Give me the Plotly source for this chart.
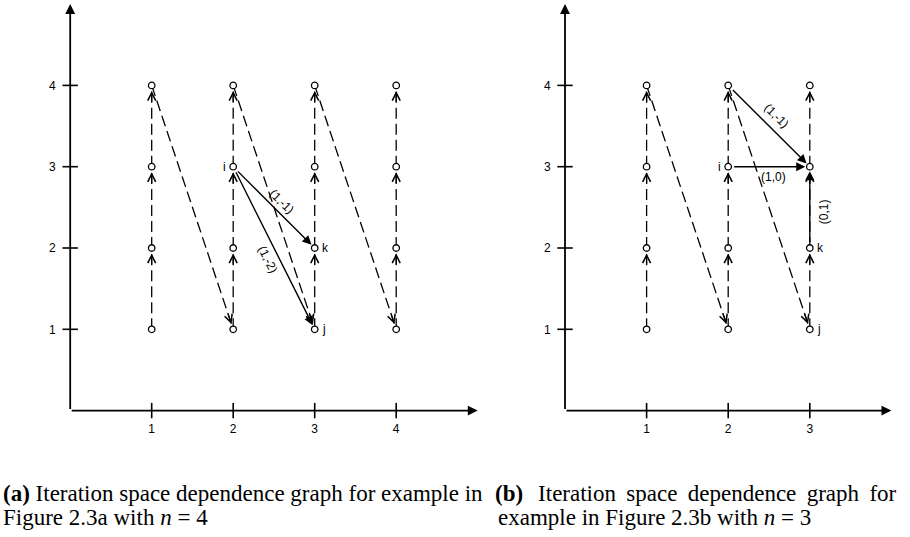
import math
import plotly.graph_objects as go

# ---------------- data ----------------
# Panel (a): n = 4
A_I = [1, 2, 3, 4]
A_J = [1, 2, 3, 4]
A_DASHED = [((1, 1), (1, 2)), ((1, 2), (1, 3)), ((1, 3), (1, 4)), ((1, 4), (2, 1)),
            ((2, 1), (2, 2)), ((2, 2), (2, 3)), ((2, 3), (2, 4)), ((2, 4), (3, 1)),
            ((3, 1), (3, 2)), ((3, 2), (3, 3)), ((3, 3), (3, 4)), ((3, 4), (4, 1)),
            ((4, 1), (4, 2)), ((4, 2), (4, 3)), ((4, 3), (4, 4))]
A_SOLID = [((2, 3), (3, 2), "(1,-1)"), ((2, 3), (3, 1), "(1,-2)")]
A_NAMES = [((2, 3), "i"), ((3, 2), "k"), ((3, 1), "j")]

# Panel (b): n = 3
B_I = [1, 2, 3]
B_J = [1, 2, 3, 4]
B_DASHED = [((1, 1), (1, 2)), ((1, 2), (1, 3)), ((1, 3), (1, 4)), ((1, 4), (2, 1)),
            ((2, 1), (2, 2)), ((2, 2), (2, 3)), ((2, 3), (2, 4)), ((2, 4), (3, 1)),
            ((3, 1), (3, 2)), ((3, 2), (3, 3)), ((3, 3), (3, 4))]
B_SOLID = [((2, 4), (3, 3), "(1,-1)"), ((2, 3), (3, 3), "(1,0)"), ((3, 2), (3, 3), "(0,1)")]
B_NAMES = [((2, 3), "i"), ((3, 2), "k"), ((3, 1), "j")]

X_TICKS_A = [1, 2, 3, 4]
X_TICKS_B = [1, 2, 3]
Y_TICKS = [1, 2, 3, 4]
X_MAX_A = 5
X_MAX_B = 4
Y_MAX = 5

CAPTION_A = ["<b>(a)</b> Iteration space dependence graph for example in",
             "Figure 2.3a with <i>n</i> = 4"]
CAPTION_B = ["<b>(b)</b> \u2009\u2009Iteration \u2009space \u2009dependence \u2009graph \u2009for",
             "example in Figure 2.3b with <i>n</i> = 3"]

# ---------------- style ----------------
W, H = 910, 537
SANS = "Liberation Sans, Arial, sans-serif"
SERIF = "Liberation Serif, Times New Roman, serif"
BLACK = "#000000"
# label pixel offsets (dx right, dy down) relative to edge midpoint
A_LABEL_OFF = [(8, -5), (-6, 12)]
B_LABEL_OFF = [(7.5, -10), (4, 10), (15, 4)]

Y0_PX = 410.6
Y_PX_PER_UNIT = 81.3
A_X0_PX, A_PX_PER_UNIT = 70.2, 81.5
B_X0_PX, B_PX_PER_UNIT = 565.0, 81.6
y_dom = [(H - Y0_PX) / H, (H - (Y0_PX - Y_MAX * Y_PX_PER_UNIT)) / H]
xa_dom = [A_X0_PX / W, (A_X0_PX + X_MAX_A * A_PX_PER_UNIT) / W]
xb_dom = [B_X0_PX / W, (B_X0_PX + X_MAX_B * B_PX_PER_UNIT) / W]

fig = go.Figure()
annotations = []


def panel(xr, yr, I, J, dashed, solid, names, label_off, xticks, xmax):
    # dashed lines
    xs, ys = [], []
    for (a, b) in dashed:
        xs += [a[0], b[0], None]
        ys += [a[1], b[1], None]
    fig.add_trace(go.Scatter(x=xs, y=ys, xaxis=xr, yaxis=yr, mode="lines",
                             line=dict(color=BLACK, width=1.3, dash="11px,5px"),
                             hoverinfo="skip", cliponaxis=False))
    # open chevron heads on dashed edges
    for (a, b) in dashed:
        dx, dy = b[0] - a[0], b[1] - a[1]
        L = math.hypot(dx, dy)
        ux, uy = dx / L, dy / L
        annotations.append(dict(x=b[0], y=b[1], xref=xr, yref=yr, text="",
                                showarrow=True, ax=-ux * 18, ay=uy * 18,
                                arrowhead=5, arrowsize=1.3, arrowwidth=1.2,
                                arrowcolor=BLACK, standoff=5.5))
    # solid arrows
    for k, (a, b, lab) in enumerate(solid):
        annotations.append(dict(x=b[0], y=b[1], ax=a[0], ay=a[1], xref=xr, yref=yr,
                                axref=xr, ayref=yr, text="", showarrow=True,
                                arrowhead=2, arrowsize=1.3, arrowwidth=1.4,
                                arrowcolor=BLACK, standoff=4.5, startstandoff=4.5))
        dx, dy = b[0] - a[0], b[1] - a[1]
        ang = math.degrees(math.atan2(-dy, dx))
        ox, oy = label_off[k]
        annotations.append(dict(x=(a[0] + b[0]) / 2, y=(a[1] + b[1]) / 2, xref=xr, yref=yr,
                                text=lab, showarrow=False, textangle=ang,
                                xshift=ox, yshift=-oy,
                                font=dict(family=SANS, size=12, color=BLACK)))
    # nodes
    nx = [i for i in I for j in J]
    ny = [j for i in I for j in J]
    fig.add_trace(go.Scatter(x=nx, y=ny, xaxis=xr, yaxis=yr, mode="markers",
                             marker=dict(symbol="circle", size=6.5, color="white",
                                         line=dict(color=BLACK, width=1.3)),
                             hoverinfo="skip", cliponaxis=False))
    # node names
    for (p, nm) in names:
        left = nm == "i"
        annotations.append(dict(x=p[0], y=p[1], xref=xr, yref=yr, text=nm,
                                showarrow=False, xanchor="right" if left else "left",
                                xshift=-5 if left else 5,
                                font=dict(family=SANS, size=12, color=BLACK)))
    # tick crosses
    fig.add_trace(go.Scatter(x=xticks, y=[0] * len(xticks), xaxis=xr, yaxis=yr,
                             mode="markers", hoverinfo="skip", cliponaxis=False,
                             marker=dict(symbol="line-ns", size=11,
                                         line=dict(color=BLACK, width=1.6))))
    fig.add_trace(go.Scatter(x=[0] * len(Y_TICKS), y=Y_TICKS, xaxis=xr, yaxis=yr,
                             mode="markers", hoverinfo="skip", cliponaxis=False,
                             marker=dict(symbol="line-ew", size=11,
                                         line=dict(color=BLACK, width=1.6))))
    # axis arrows
    for (hx, hy) in [(xmax, 0), (0, Y_MAX)]:
        annotations.append(dict(x=hx, y=hy, ax=0, ay=0, xref=xr, yref=yr,
                                axref=xr, ayref=yr, text="", showarrow=True,
                                arrowhead=2, arrowsize=1.1, arrowwidth=1.8,
                                arrowcolor=BLACK, standoff=0))
    # axis titles
    annotations.append(dict(x=2.55, y=-0.645, xref=xr, yref=yr, text="I",
                            showarrow=False, font=dict(family=SANS, size=12, color=BLACK)))
    annotations.append(dict(x=-0.71, y=2, xref=xr, yref=yr, text="J",
                            showarrow=False, font=dict(family=SANS, size=12, color=BLACK)))


panel("x", "y", A_I, A_J, A_DASHED, A_SOLID, A_NAMES, A_LABEL_OFF, X_TICKS_A, X_MAX_A)
panel("x2", "y2", B_I, B_J, B_DASHED, B_SOLID, B_NAMES, B_LABEL_OFF, X_TICKS_B, X_MAX_B)

# captions
cap_y = [(H - 493.5) / H, (H - 517.5) / H]
for k, line in enumerate(CAPTION_A):
    annotations.append(dict(x=1 / W, y=cap_y[k], xref="paper", yref="paper",
                            xanchor="left", yanchor="middle", text=line, showarrow=False,
                            font=dict(family=SERIF, size=23, color=BLACK)))
cap_bx = [493 / W, 496 / W]
for k, line in enumerate(CAPTION_B):
    annotations.append(dict(x=cap_bx[k], y=cap_y[k], xref="paper", yref="paper",
                            xanchor="left", yanchor="middle", text=line, showarrow=False,
                            font=dict(family=SERIF, size=23, color=BLACK)))

axis_common = dict(showgrid=False, zeroline=False, showline=False,
                   ticks="outside", tickcolor="rgba(0,0,0,0)",
                   tickfont=dict(family=SANS, size=12, color=BLACK), fixedrange=True)

fig.update_layout(
    width=W, height=H, margin=dict(l=0, r=0, t=0, b=0),
    paper_bgcolor="white", plot_bgcolor="white", showlegend=False,
    xaxis=dict(domain=xa_dom, range=[0, X_MAX_A], tickvals=X_TICKS_A,
               ticktext=[str(v) for v in X_TICKS_A], ticklen=7, anchor="y", **axis_common),
    yaxis=dict(domain=y_dom, range=[0, Y_MAX], tickvals=Y_TICKS,
               ticktext=[str(v) for v in Y_TICKS], ticklen=11, anchor="x", **axis_common),
    xaxis2=dict(domain=xb_dom, range=[0, X_MAX_B], tickvals=X_TICKS_B,
                ticktext=[str(v) for v in X_TICKS_B], ticklen=7, anchor="y2", **axis_common),
    yaxis2=dict(domain=y_dom, range=[0, Y_MAX], tickvals=Y_TICKS,
                ticktext=[str(v) for v in Y_TICKS], ticklen=11, anchor="x2", **axis_common),
    annotations=annotations,
)

fig.write_html("out.html", config={"displayModeBar": False},
               post_script="document.body.style.margin='0';document.body.style.overflow='hidden';")
